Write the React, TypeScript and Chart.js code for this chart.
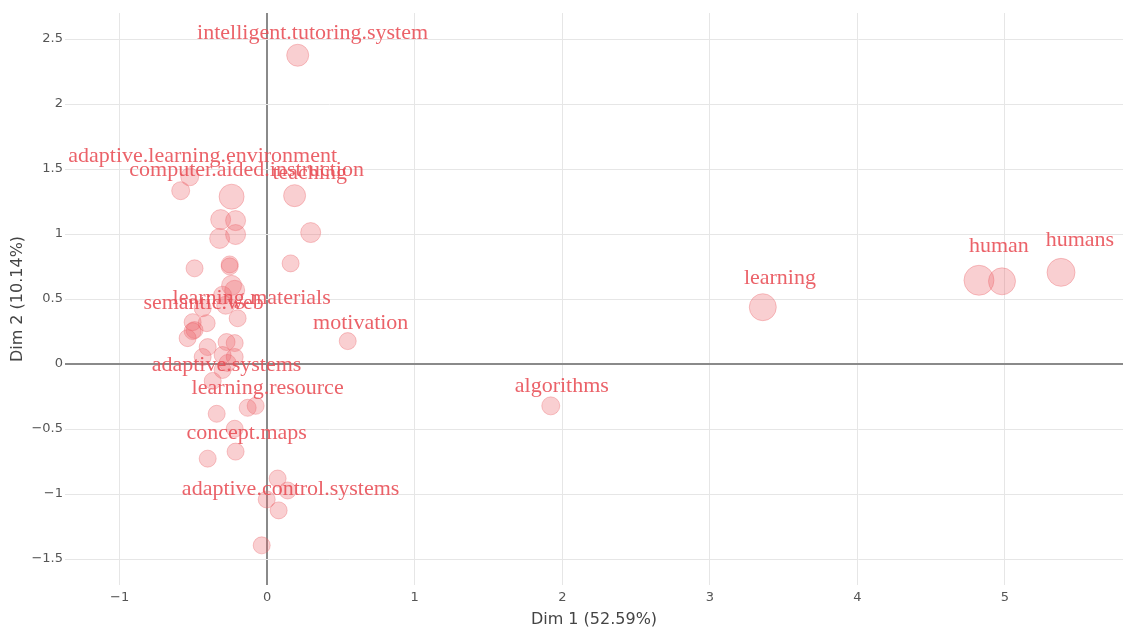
import { useEffect, useRef } from 'react';
import { Chart, registerables } from 'chart.js';

Chart.register(...registerables);

// Coordinates of each term on the first two dimensions
const dim1 = [
  0.207, -0.525, -0.586, -0.241, 0.186, -0.315, -0.214, -0.322, -0.214, 0.295,
  -0.492, -0.254, -0.254, 0.159, -0.241, -0.220, -0.302, -0.281, -0.437, -0.200,
  -0.505, -0.410, -0.505, -0.492, -0.539, -0.403, -0.275, -0.220, -0.437, -0.302,
  -0.220, -0.268, -0.302, -0.369, -0.342, -0.132, -0.078, -0.220, -0.403, -0.214,
  0.071, 0.139, -0.003, 0.078, -0.037, 0.546, 1.922, 3.359, 4.824, 4.980, 5.380,
];
const dim2 = [
  2.375, 1.440, 1.333, 1.287, 1.295, 1.111, 1.103, 0.966, 0.996, 1.011,
  0.736, 0.766, 0.751, 0.774, 0.605, 0.567, 0.529, 0.452, 0.429, 0.352,
  0.322, 0.314, 0.253, 0.261, 0.199, 0.130, 0.169, 0.161, 0.054, 0.069,
  0.054, 0.008, -0.046, -0.130, -0.383, -0.337, -0.322, -0.498, -0.728, -0.674,
  -0.881, -0.973, -1.042, -1.126, -1.395, 0.176, -0.322, 0.437, 0.644, 0.636, 0.705,
];
// Marker radius of each term
const markerSize = [
  11, 9, 9, 12.5, 11, 10, 10, 10, 10, 10,
  8.5, 8.5, 8.5, 8.5, 10, 10, 9, 9, 8.5, 8.5,
  8.5, 8.5, 8.5, 8.5, 8.5, 8.5, 8.5, 8.5, 8.5, 8.5,
  8.5, 8.5, 8.5, 8.5, 8.5, 8.5, 8.5, 8.5, 8.5, 8.5,
  8.5, 8.5, 8.5, 8.5, 8.5, 8.5, 9, 13.5, 15, 13.5, 14,
];

// Term labels and where each one sits on the map
const labelText = [
  'intelligent.tutoring.system', 'adaptive.learning.environment', 'computer.aided.instruction',
  'teaching', 'learning.materials', 'semantic.web', 'motivation', 'adaptive.systems',
  'learning.resource', 'concept.maps', 'adaptive.control.systems', 'algorithms',
  'learning', 'human', 'humans',
];
const labelDim1 = [
  0.308, -0.437, -0.139, 0.288, -0.105, -0.431, 0.634, -0.275,
  0.003, -0.139, 0.159, 1.997, 3.475, 4.959, 5.508,
];
const labelDim2 = [
  2.544, 1.602, 1.487, 1.471, 0.506, 0.467, 0.314, -0.008,
  -0.184, -0.536, -0.966, -0.169, 0.659, 0.904, 0.950,
];

const xTitle = 'Dim 1 (52.59%)';
const yTitle = 'Dim 2 (10.14%)';

const minus = (v: number) => String(v).replace('-', '\u2212');

const overlay = {
  id: 'termLabels',
  afterDatasetsDraw(chart: any) {
    const { ctx, scales, chartArea } = chart;
    const x = scales.x;
    const y = scales.y;
    ctx.save();
    ctx.font = '22px "Liberation Serif", "Times New Roman", serif';
    ctx.fillStyle = 'rgba(232, 76, 84, 0.88)';
    ctx.textAlign = 'center';
    ctx.textBaseline = 'middle';
    labelText.forEach((t, i) => {
      ctx.fillText(t, x.getPixelForValue(labelDim1[i]), y.getPixelForValue(labelDim2[i]));
    });
    ctx.restore();

    ctx.save();
    ctx.font = '16px "DejaVu Sans", sans-serif';
    ctx.fillStyle = '#444';
    ctx.textAlign = 'center';
    ctx.textBaseline = 'middle';
    ctx.fillText(xTitle, (chartArea.left + chartArea.right) / 2, 620);
    ctx.translate(18, (chartArea.top + chartArea.bottom) / 2);
    ctx.rotate(-Math.PI / 2);
    ctx.fillText(yTitle, 0, 0);
    ctx.restore();
  },
};

export default function App() {
  const canvasRef = useRef<HTMLCanvasElement | null>(null);

  useEffect(() => {
    if (!canvasRef.current) return;
    const gridColor = (c: any) => (c.tick && c.tick.value === 0 ? '#8a8a8a' : '#e6e6e6');
    const gridWidth = (c: any) => (c.tick && c.tick.value === 0 ? 2 : 1);
    const chart = new Chart(canvasRef.current, {
      type: 'scatter',
      data: {
        datasets: [
          {
            data: dim1.map((v, i) => ({ x: v, y: dim2[i] })),
            pointRadius: markerSize,
            pointHoverRadius: markerSize,
            backgroundColor: 'rgba(236, 96, 102, 0.3)',
            borderColor: 'rgba(236, 96, 102, 0.35)',
            borderWidth: 1,
          },
        ],
      },
      options: {
        responsive: false,
        animation: false,
        layout: { autoPadding: false, padding: { top: 13, right: 0, left: 0, bottom: 0 } },
        plugins: { legend: { display: false }, tooltip: { enabled: false } },
        scales: {
          x: {
            type: 'linear',
            min: -1.37,
            max: 5.8,
            border: { display: false },
            grid: { color: gridColor, lineWidth: gridWidth, drawTicks: false },
            ticks: {
              stepSize: 1,
              includeBounds: false,
              padding: 5,
              color: '#555',
              font: { family: '"DejaVu Sans", sans-serif', size: 13 },
              callback: (v: any) => minus(v),
            },
            afterFit: (s: any) => {
              s.height = 43;
              s.paddingLeft = 0;
              s.paddingRight = 0;
            },
          },
          y: {
            type: 'linear',
            min: -1.7,
            max: 2.7,
            border: { display: false },
            grid: { color: gridColor, lineWidth: gridWidth, drawTicks: false },
            ticks: {
              stepSize: 0.5,
              includeBounds: false,
              padding: 2,
              color: '#555',
              font: { family: '"DejaVu Sans", sans-serif', size: 13 },
              callback: (v: any) => minus(v),
            },
            afterFit: (s: any) => {
              s.width = 65;
              s.paddingTop = 0;
              s.paddingBottom = 0;
            },
          },
        },
      },
      plugins: [overlay],
    });
    return () => chart.destroy();
  }, []);

  return (
    <div style={{ position: 'fixed', left: 0, top: 0, width: 1123, height: 628, background: '#fff' }}>
      <canvas ref={canvasRef} width={1123} height={628} />
    </div>
  );
}
